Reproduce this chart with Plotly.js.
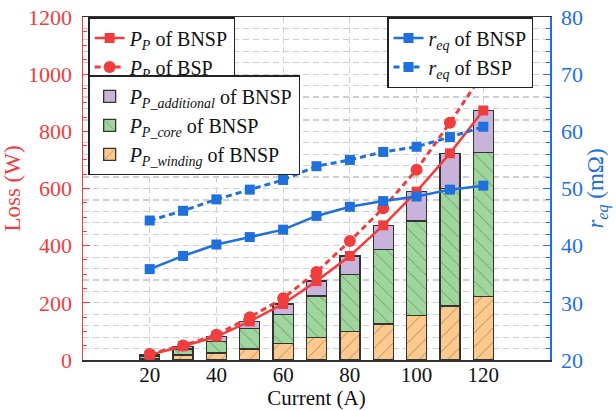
<!DOCTYPE html>
<html><head><meta charset="utf-8">
<script src="https://cdn.plot.ly/plotly-3.0.1.min.js"></script>
<style>html,body{margin:0;padding:0;background:#fff}</style>
</head><body><div id="chart" style="width:616px;height:410px"></div>
<script>
const current = [20,30,40,50,60,70,80,90,100,110,120];
const pWinding = [5,18,24,38,58,78,100,126,155,189,221];
const pCore = [9,20,41,73,102,146,198,261,331,412,505];
const pAdditional = [4,10,17,24,36,52,66,84,103,122,147];
const pBNSP = [18,48,82,135,196,276,364,471,589,723,873];
const pBSP = [21,51,88,150,216,308,416,531,666,830,1004];
const rBNSP = [35.9,38.2,40.2,41.5,42.8,45.2,46.8,47.8,48.6,49.8,50.5];
const rBSP = [44.4,46.1,48.1,49.8,51.5,53.9,55.0,56.4,57.3,59.0,60.8];
const xTicks = [20,40,60,80,100,120];

const RED = '#f03e3e', BLUE = '#1f6fdc';
const FONT = '"Liberation Serif", "Times New Roman", Times, serif';
const barLine = {color:'#333', width:1.3};

const traces = [
  {type:'bar', x:current, y:pWinding, width:6, name:'<i>P</i><sub><i>P_winding</i></sub> of BNSP', legend:'legend2',
   marker:{color:'#fdc98c', line:barLine, pattern:{shape:'/', fillmode:'overlay', fgcolor:'#333', size:10, solidity:0.08}}},
  {type:'bar', x:current, y:pCore, width:6, name:'<i>P</i><sub><i>P_core</i></sub> of BNSP', legend:'legend2',
   marker:{color:'#9fd69c', line:barLine, pattern:{shape:'\\', fillmode:'overlay', fgcolor:'#333', size:10, solidity:0.08}}},
  {type:'bar', x:current, y:pAdditional, width:6, name:'<i>P</i><sub><i>P_additional</i></sub> of BNSP', legend:'legend2',
   marker:{color:'#c8b4da', line:barLine}},
  {type:'scatter', mode:'lines+markers', x:current, y:pBNSP, name:'<i>P</i><sub><i>P</i></sub> of BNSP', legend:'legend',
   line:{color:RED, width:2.5}, marker:{symbol:'square', size:10, color:RED}},
  {type:'scatter', mode:'lines+markers', x:current, y:pBSP, name:'<i>P</i><sub><i>P</i></sub> of BSP', legend:'legend',
   line:{color:RED, width:3, dash:'6px,4px'}, marker:{symbol:'circle', size:12, color:RED}},
  {type:'scatter', mode:'lines+markers', x:current, y:rBNSP, yaxis:'y2', name:'<i>r</i><sub><i>eq</i></sub> of BNSP', legend:'legend3',
   line:{color:BLUE, width:2.5}, marker:{symbol:'square', size:10, color:BLUE}},
  {type:'scatter', mode:'lines+markers', x:current, y:rBSP, yaxis:'y2', name:'<i>r</i><sub><i>eq</i></sub> of BSP', legend:'legend3',
   line:{color:BLUE, width:3, dash:'6px,4px'}, marker:{symbol:'square', size:10, color:BLUE}}
];

const legendBase = {bgcolor:'#fff', bordercolor:'#222', borderwidth:1.5, xanchor:'left', yanchor:'top',
  font:{family:FONT, size:20, color:'#111'}, itemclick:false, tracegroupgap:0};

const layout = {
  width:616, height:410,
  margin:{l:83, r:66, t:17, b:50},
  paper_bgcolor:'#fff', plot_bgcolor:'#fff',
  barmode:'stack',
  font:{family:FONT, size:22, color:'#111'},
  xaxis:{range:[0,140], tickvals:xTicks, showgrid:true, gridcolor:'#cfcfcf', griddash:'6px,4px', gridwidth:1.2,
    showline:true, linecolor:'#333', linewidth:1.5, mirror:true, ticks:'', zeroline:false,
    tickfont:{family:FONT, size:21, color:'#111'}, ticklabelstandoff:-5,
    title:{text:'Current (A)', font:{family:FONT, size:21, color:'#111'}, standoff:6}},
  yaxis:{range:[0,1200], dtick:200, showgrid:false, zeroline:false, showline:true, linecolor:RED, linewidth:1.5,
    ticks:'inside', ticklen:7, tickcolor:RED, tickfont:{family:FONT, size:22, color:RED}, ticklabelstandoff:5,
    minor:{dtick:50, ticks:'inside', ticklen:4, tickcolor:RED, showgrid:false},
    title:{text:'Loss (W)', font:{family:FONT, size:23, color:RED}, standoff:6}},
  yaxis2:{range:[20,80], dtick:10, overlaying:'y', side:'right', zeroline:false, showline:true, linecolor:BLUE, linewidth:1.5,
    showgrid:true, gridcolor:'#cfcfcf', griddash:'6px,4px', gridwidth:1.2,
    ticks:'inside', ticklen:7, tickcolor:BLUE, tickfont:{family:FONT, size:22, color:BLUE}, ticklabelstandoff:5,
    minor:{dtick:2, ticks:'inside', ticklen:4, tickcolor:BLUE, showgrid:true, gridcolor:'#cfcfcf', griddash:'6px,4px', gridwidth:1.2},
    title:{text:'<i>r</i><sub><i>eq</i></sub> (mΩ)', font:{family:FONT, size:23, color:BLUE}, standoff:4}},
  legend: Object.assign({}, legendBase, {x:0.011, y:1}),
  legend2: Object.assign({}, legendBase, {x:0.011, y:0.83, traceorder:'reversed'}),
  legend3: Object.assign({}, legendBase, {x:0.651, y:1}),
  showlegend:true
};

Plotly.newPlot('chart', traces, layout, {displayModeBar:false, staticPlot:true});
</script></body></html>
